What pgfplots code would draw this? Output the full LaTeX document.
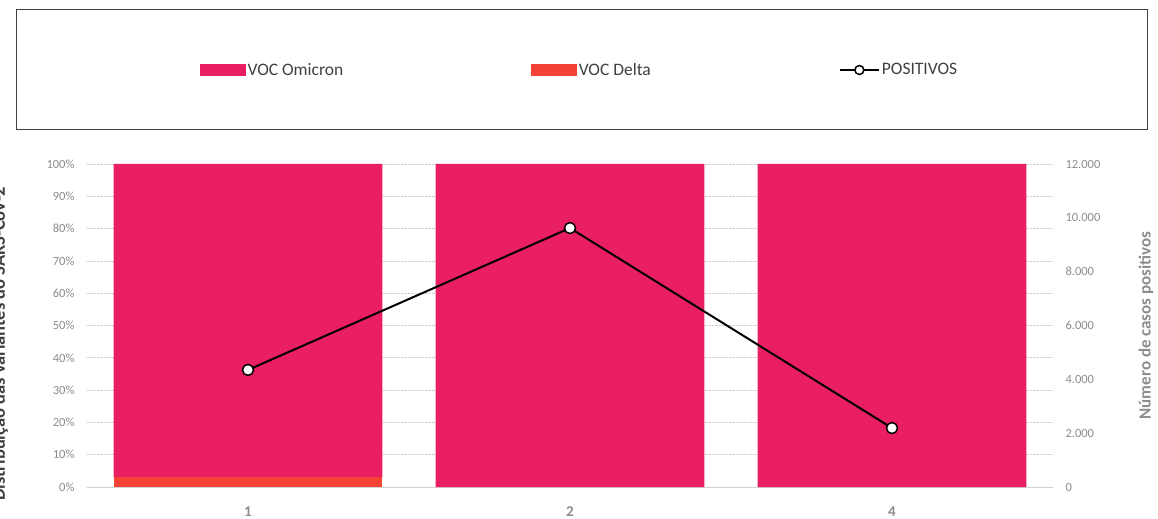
\documentclass[border=0pt]{standalone}
\usepackage{pgfplots}
\pgfplotsset{compat=1.18}
\usepackage{fontspec}
\setmainfont{Carlito}
\usetikzlibrary{calc}

\definecolor{omi}{HTML}{E91E63}
\definecolor{delta}{HTML}{F44336}
\definecolor{tickgray}{HTML}{8C8C8C}
\definecolor{labgray}{HTML}{404040}
\definecolor{gridgray}{HTML}{D0D0D0}

\begin{document}
\begin{tikzpicture}
\begin{axis}[
  name=ax,
  scale only axis,
  width=966bp, height=323bp,
  xmin=-0.5, xmax=2.5,
  ymin=0, ymax=100,
  ybar stacked,
  bar width=0.835,
  xtick={0,1,2},
  xticklabels={1,2,4},
  ytick={0,10,...,100},
  yticklabel={\pgfmathprintnumber{\tick}\%},
  /pgf/number format/assume math mode=true,
  ymajorgrids=true,
  grid style={densely dotted, gridgray, line width=0.6pt},
  axis x line*=bottom,
  axis y line*=left,
  x axis line style={draw=gridgray, line width=1pt, -},
  y axis line style={draw=none},
  major tick length=0pt,
  tick label style={font=\fontsize{12.5bp}{14bp}\selectfont, text=tickgray},
  xticklabel style={font=\fontsize{15bp}{17bp}\selectfont\bfseries, text=tickgray, yshift=-16bp},
  yticklabel style={xshift=-9bp},
  ylabel={Distribuição das variantes do SARS-CoV-2},
  ylabel style={at={(axis description cs:-0.085,0.443)}, anchor=base,
    font=\fontsize{18.5bp}{20bp}\selectfont\bfseries, text=labgray},
  legend columns=3,
  legend style={at={(axis description cs:0.117,1.291)}, anchor=west,
    draw=none, fill=none, inner sep=0pt,
    font=\fontsize{17.5bp}{19bp}\selectfont, text=labgray,
    /tikz/every even column/.append style={column sep=186bp}},
  clip=false,
]
\addplot[fill=omi, draw=none, forget plot] coordinates {(0,0)(1,0)(2,0)};
\addplot[fill=delta, draw=none, forget plot] coordinates {(0,3)(1,0)(2,0)};
\addplot[fill=omi, draw=none, forget plot] coordinates {(0,97)(1,100)(2,100)};
\addlegendimage{legend image code/.code={\fill[omi] (0bp,-5.5bp) rectangle (45bp,5.5bp);}}
\addlegendentry{VOC Omicron}
\addlegendimage{legend image code/.code={\fill[delta] (0bp,-5.5bp) rectangle (45bp,5.5bp);}}
\addlegendentry{VOC Delta}
\addlegendimage{legend image code/.code={
  \draw[black, line width=2bp] (0bp,0bp) -- (39bp,0bp);
  \draw[black, fill=white, line width=1.5bp] (19.5bp,0bp) circle (4.5bp);}}
\addlegendentry{POSITIVOS}
\end{axis}

\begin{axis}[
  scale only axis,
  width=966bp, height=323bp,
  xmin=-0.5, xmax=2.5,
  ymin=0, ymax=12000,
  axis y line*=right,
  axis x line=none,
  y axis line style={draw=none},
  major tick length=0pt,
  ytick={0,2000,...,12000},
  scaled y ticks=false,
  /pgf/number format/.cd, 1000 sep={.}, assume math mode=true,
  /pgfplots/.cd,
  tick label style={font=\fontsize{12.5bp}{14bp}\selectfont, text=tickgray},
  yticklabel style={xshift=9bp},
  ylabel={Número de casos positivos},
  ylabel style={at={(axis description cs:1.0963,0.5)}, anchor=center, rotate=0,
    font=\fontsize{17bp}{19bp}\selectfont\bfseries, text=tickgray},
  clip=false,
]
\addplot[black, line width=2bp, mark=*, mark size=5.5bp,
  mark options={fill=white, draw=black, line width=1.5bp}]
  coordinates {(0,4350)(1,9620)(2,2190)};
\end{axis}

\draw[draw=labgray, line width=1bp]
  ($(ax.south west)+(-70bp,357bp)$) rectangle ($(ax.south west)+(1060bp,477bp)$);

\pgfresetboundingbox
\path[use as bounding box] ($(ax.south west)+(-87bp,-32bp)$) rectangle +(1158bp,519bp);
\end{tikzpicture}
\end{document}
